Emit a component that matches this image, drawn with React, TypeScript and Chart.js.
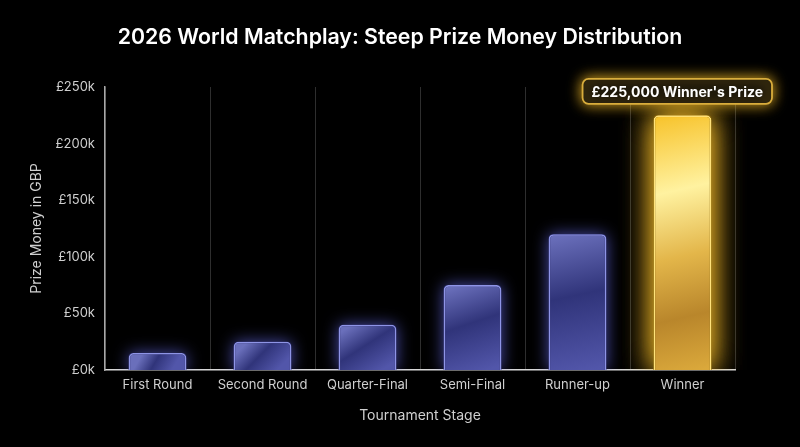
import React, { useEffect, useRef } from "react";
import { Chart, registerables } from "chart.js";

Chart.register(...registerables);

const categories = ["First Round", "Second Round", "Quarter-Final", "Semi-Final", "Runner-up", "Winner"];
const prizeMoney = [15000, 25000, 40000, 75000, 120000, 225000];
const yTickValues = [0, 50000, 100000, 150000, 200000, 250000];
const titleText = "2026 World Matchplay: Steep Prize Money Distribution";
const annotationText = "£225,000 Winner's Prize";
const xAxisTitle = "Tournament Stage";
const yAxisTitle = "Prize Money in GBP";

const FONT = "Inter, 'Noto Sans', sans-serif";

function roundTopRect(ctx: CanvasRenderingContext2D, x: number, y: number, w: number, h: number, r: number) {
  ctx.beginPath();
  ctx.moveTo(x, y + h);
  ctx.lineTo(x, y + r);
  ctx.quadraticCurveTo(x, y, x + r, y);
  ctx.lineTo(x + w - r, y);
  ctx.quadraticCurveTo(x + w, y, x + w, y + r);
  ctx.lineTo(x + w, y + h);
  ctx.closePath();
}

const isWinner = (i: number) => i === categories.length - 1;

const glowPlugin = {
  id: "barGlow",
  beforeDatasetsDraw(chart: any) {
    const ctx = chart.ctx as CanvasRenderingContext2D;
    const meta = chart.getDatasetMeta(0);
    ctx.save();
    ctx.beginPath();
    ctx.rect(0, 0, chart.width, chart.chartArea.bottom);
    ctx.clip();
    meta.data.forEach((el: any, i: number) => {
      const { x, y, base, width } = el.getProps(["x", "y", "base", "width"], true);
      const gold = isWinner(i);
      ctx.shadowColor = gold ? "rgba(255, 195, 40, 0.8)" : "rgba(105, 110, 240, 0.7)";
      ctx.shadowBlur = gold ? 30 : 16;
      ctx.fillStyle = gold ? "rgba(120, 90, 10, 1)" : "rgba(40, 42, 100, 1)";
      for (let k = 0; k < (gold ? 2 : 1); k++) {
        roundTopRect(ctx, x - width / 2, y, width, base - y, 4);
        ctx.fill();
      }
    });
    ctx.restore();
  },
};

const overlayPlugin = {
  id: "overlay",
  afterDraw(chart: any) {
    const ctx = chart.ctx as CanvasRenderingContext2D;
    // title
    ctx.save();
    ctx.fillStyle = "#ffffff";
    ctx.font = `600 21.3px ${FONT}`;
    ctx.textAlign = "center";
    ctx.textBaseline = "middle";
    ctx.fillText(titleText, chart.width / 2, 38);
    ctx.restore();

    // annotation
    const xs = chart.scales.x;
    const ys = chart.scales.y;
    const idx = categories.length - 1;
    const bx = xs.getPixelForValue(idx);
    const by = ys.getPixelForValue(prizeMoney[idx]);
    ctx.save();
    ctx.font = `700 14px ${FONT}`;
    const tw = ctx.measureText(annotationText).width;
    const w = tw + 18;
    const h = 25;
    let cx = bx;
    cx = Math.min(cx, chart.width - 28 - w / 2);
    const cy = by - 24;
    const left = cx - w / 2;
    const top = cy - h / 2;
    ctx.shadowColor = "rgba(255, 195, 40, 0.9)";
    ctx.shadowBlur = 14;
    ctx.fillStyle = "#17130a";
    ctx.strokeStyle = "#d9ad3c";
    ctx.lineWidth = 1.8;
    ctx.beginPath();
    (ctx as any).roundRect(left, top, w, h, 6);
    ctx.fill();
    ctx.stroke();
    ctx.shadowBlur = 0;
    ctx.shadowColor = "transparent";
    ctx.fillStyle = "#ffffff";
    ctx.textAlign = "center";
    ctx.textBaseline = "middle";
    ctx.fillText(annotationText, cx, cy + 1);
    ctx.restore();
  },
};

function barFill(c: any) {
  const chart = c.chart;
  const i = c.dataIndex;
  if (!chart.chartArea || i === undefined) return isWinner(i) ? "#e8b838" : "#474c98";
  const xs = chart.scales.x;
  const ys = chart.scales.y;
  const v = prizeMoney[i];
  const top = ys.getPixelForValue(v);
  const bot = ys.getPixelForValue(0);
  const x = xs.getPixelForValue(i);
  const w = 58;
  if (isWinner(i)) {
    const g = chart.ctx.createLinearGradient(x - w / 2, top, x + w / 2, bot);
    g.addColorStop(0, "#f7c229");
    g.addColorStop(0.3, "#fff2a0");
    g.addColorStop(0.55, "#e3b64a");
    g.addColorStop(0.78, "#b9862b");
    g.addColorStop(1, "#dcaa3c");
    return g;
  }
  const g = chart.ctx.createLinearGradient(x - w / 4, top, x + w / 4, bot);
  g.addColorStop(0, "#6a6fbb");
  g.addColorStop(0.45, "#30347a");
  g.addColorStop(1, "#5256aa");
  return g;
}

export default function App() {
  const canvasRef = useRef<HTMLCanvasElement | null>(null);

  useEffect(() => {
    document.body.style.margin = "0";
    document.body.style.background = "#000";
    const canvas = canvasRef.current;
    if (!canvas) return;
    const chart = new Chart(canvas, {
      type: "bar",
      data: {
        labels: categories,
        datasets: [
          {
            data: prizeMoney,
            backgroundColor: barFill as any,
            borderColor: (c: any) => (isWinner(c.dataIndex) ? "#ffe27a" : "#8e94e6"),
            borderWidth: 1.6,
            borderSkipped: "bottom",
            borderRadius: { topLeft: 5, topRight: 5, bottomLeft: 0, bottomRight: 0 },
            barPercentage: 0.55,
            categoryPercentage: 1,
          },
        ],
      },
      options: {
        responsive: false,
        animation: false,
        layout: { padding: { top: 87, right: 65, bottom: 0, left: 0 } },
        plugins: {
          legend: { display: false },
          tooltip: { enabled: false },
          title: { display: false },
        },
        scales: {
          x: {
            grid: { display: true, color: "#2e2e2e", lineWidth: 1, drawTicks: false, offset: true },
            border: { display: true, color: "#d8d8d8", width: 1.5 },
            ticks: { color: "#cfcfcf", font: { family: FONT, size: 13 }, padding: 7 },
            title: {
              display: true,
              text: xAxisTitle,
              color: "#cfcfcf",
              font: { family: FONT, size: 14 },
              padding: { top: 0, bottom: 23 },
            },
            afterFit: (s: any) => {
              s.height = 77;
            },
          },
          y: {
            min: 0,
            max: 250000,
            afterBuildTicks: (s: any) => {
              s.ticks = yTickValues.map((v) => ({ value: v }));
            },
            grid: { display: false, drawTicks: false },
            border: { display: true, color: "#a8a8a8", width: 1.5 },
            ticks: {
              color: "#cfcfcf",
              font: { family: FONT, size: 13 },
              padding: 10,
              callback: (v: any) => `£${Number(v) / 1000}k`,
            },
            title: {
              display: true,
              text: yAxisTitle,
              color: "#cfcfcf",
              font: { family: FONT, size: 14 },
              padding: { top: 28, bottom: 0 },
            },
            afterFit: (s: any) => {
              s.width = 105;
            },
          },
        },
      },
      plugins: [glowPlugin, overlayPlugin],
    });
    return () => chart.destroy();
  }, []);

  return (
    <div style={{ position: "fixed", left: 0, top: 0, width: 800, height: 447, background: "#000" }}>
      <canvas ref={canvasRef} width={800} height={447} />
    </div>
  );
}
